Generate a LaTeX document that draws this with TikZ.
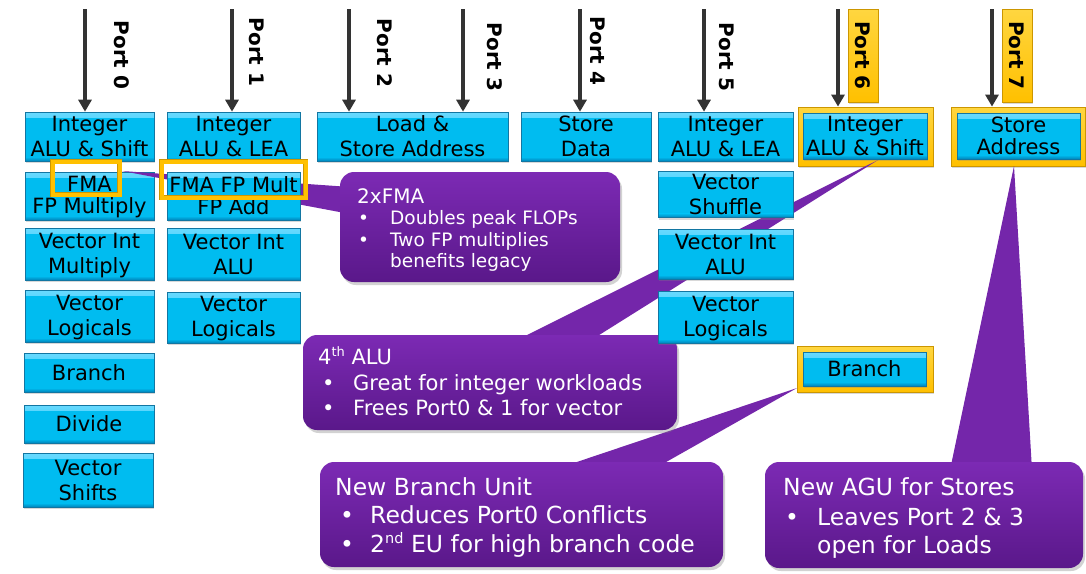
\documentclass[tikz,border=0pt]{standalone}
\usepackage{fontspec}
\setmainfont{DejaVu Sans}
\usetikzlibrary{arrows.meta,shadows}

\definecolor{unitfill}{RGB}{0,188,240}
\definecolor{unithi}{RGB}{105,218,255}
\definecolor{unitlow}{RGB}{0,132,186}
\definecolor{unitedge}{RGB}{18,118,162}
\definecolor{gold}{RGB}{255,192,0}
\definecolor{goldhi}{RGB}{255,214,64}
\definecolor{golddark}{RGB}{204,150,0}
\definecolor{violettop}{RGB}{124,42,180}
\definecolor{violetbot}{RGB}{90,24,138}
\definecolor{violetwedge}{RGB}{116,38,170}
\definecolor{portarrow}{RGB}{51,51,51}

% strut that centres a text line on its capitals
\newcommand\ustrut{\rule[-3pt]{0pt}{21pt}}
\newcommand\twoline[2]{\ustrut#1\\\ustrut#2}
\newcommand\unitsize{\fontsize{21}{25}\selectfont}
\newcommand\unittight{\fontsize{21}{22}\selectfont}
\newcommand\notea{\fontsize{18.5}{18.5}\selectfont}
\newcommand\noteb{\fontsize{21}{21}\selectfont}
\newcommand\notec{\fontsize{23.5}{23.5}\selectfont}

\begin{document}
\begin{tikzpicture}[x=1pt, y=-1pt,
  unit/.style={rectangle, inner sep=0pt, align=center, font=\unitsize,
    fill=unitfill, draw=unitedge, line width=0.6pt,
    drop shadow={shadow xshift=1pt, shadow yshift=-2pt, opacity=0.3},
    path picture={
      \shade[top color=unithi, bottom color=unitfill]
        (path picture bounding box.north west) rectangle ([yshift=-5pt]path picture bounding box.north east);
      \shade[top color=unitfill, bottom color=unitlow]
        ([yshift=4pt]path picture bounding box.south west) rectangle (path picture bounding box.south east);
    }},
  tightunit/.style={unit, font=\unittight},
  goldframe/.style={rectangle, inner sep=0pt, draw=golddark, line width=0.8pt,
    top color=goldhi, bottom color=gold,
    drop shadow={shadow xshift=1pt, shadow yshift=-2pt, opacity=0.3}},
  hilite/.style={rectangle, inner sep=0pt, draw=golddark, line width=0.7pt,
    double=gold, double distance=4pt},
  callout/.style={rectangle, rounded corners=14pt, inner sep=0pt,
    top color=violettop, bottom color=violetbot,
    drop shadow={shadow xshift=2pt, shadow yshift=-3pt, opacity=0.35}},
  wedge/.style={fill=violetwedge},
  note/.style={anchor=base west, inner sep=0pt, text=white},
  portline/.style={draw=portarrow, line width=4pt, -{Triangle[width=13pt, length=12pt]}},
  portname/.style={rotate=-90, inner sep=0pt, font=\bfseries\fontsize{20}{20}\selectfont},
  porttag/.style={goldframe, portname, minimum width=93pt, minimum height=30pt}
]
\useasboundingbox (0,0) rectangle (1086,573);
\fill[white] (0,0) rectangle (1086,573);

% ---- new units on ports 6 and 7, new branch unit
\node[goldframe, minimum width=135pt, minimum height=59pt] (f6) at (865.5,136.5) {};
\node[tightunit, minimum width=124pt, minimum height=46pt] (i6) at (865,136) {\twoline{Integer}{ALU \& Shift}};
\node[goldframe, minimum width=134pt, minimum height=59pt] (f7) at (1018,136.5) {};
\node[tightunit, minimum width=123pt, minimum height=46pt] (sa7) at (1018.5,136) {\twoline{Store}{Address}};
\node[goldframe, minimum width=136pt, minimum height=46pt] (fbr) at (865,369) {};
\node[unit, minimum width=123pt, minimum height=34pt] (br6) at (864.5,369) {\ustrut Branch};
\node[porttag] (pt6) at (863,55.5) {Port 6};
\node[porttag] (pt7) at (1017,55.5) {Port 7};

% ---- port 0
\node[unit, minimum width=129pt, minimum height=49pt] (i0) at (89.5,136.5) {\twoline{Integer}{ALU \& Shift}};
\node[tightunit, minimum width=129pt, minimum height=48pt] (fma0) at (89.5,196) {\twoline{FMA}{FP Multiply}};
\node[unit, minimum width=129pt, minimum height=52pt] (vim) at (89.5,254) {\twoline{Vector Int}{Multiply}};
\node[unit, minimum width=129pt, minimum height=52pt] (vl0) at (89.5,316) {\twoline{Vector}{Logicals}};
\node[unit, minimum width=130pt, minimum height=39pt] (br0) at (89,372.5) {\ustrut Branch};
\node[unit, minimum width=130pt, minimum height=38pt] (dv) at (89,424) {\ustrut Divide};
\node[unit, minimum width=130pt, minimum height=54pt] (vsh) at (88,480) {\twoline{Vector}{Shifts}};

% ---- callout pointers
\fill[wedge] (122,171) -- (350,187) -- (350,214) -- cycle;
\fill[wedge] (878,160) -- (513,342) -- (588,342) -- cycle;
\fill[wedge] (797,388) -- (553,470) -- (652,470) -- cycle;
\fill[wedge] (1014,166) -- (950,470) -- (1032,470) -- cycle;

% ---- callout bodies
\node[callout, minimum width=280pt, minimum height=110pt] (c1) at (480,227) {};
\node[callout, minimum width=374pt, minimum height=95pt] (c2) at (490,382.5) {};
\node[callout, minimum width=403pt, minimum height=105pt] (c3) at (521.5,514.5) {};
\node[callout, minimum width=318pt, minimum height=106pt] (c4) at (924,515) {};

\node[note, font=\fontsize{20}{20}\selectfont] (c1t) at (357,203) {2xFMA};
\node[note, font=\notea] (c1b1) at (358,224) {•};
\node[note, font=\notea] (c1l1) at (390,224) {Doubles peak FLOPs};
\node[note, font=\notea] (c1b2) at (358,246) {•};
\node[note, font=\notea] (c1l2) at (390,246) {Two FP multiplies};
\node[note, font=\notea] (c1l3) at (390,267) {benefits legacy};

\node[note, font=\noteb] (c2t) at (318,364) {4\raisebox{8pt}{\fontsize{13}{13}\selectfont th} ALU};
\node[note, font=\noteb] (c2b1) at (322,390) {•};
\node[note, font=\noteb] (c2l1) at (353,390) {Great for integer workloads};
\node[note, font=\noteb] (c2b2) at (322,415) {•};
\node[note, font=\noteb] (c2l2) at (353,415) {Frees Port0 \& 1 for vector};

\node[note, font=\notec] (c3t) at (335,495) {New Branch Unit};
\node[note, font=\notec] (c3b1) at (340,523) {•};
\node[note, font=\notec] (c3l1) at (370,523) {Reduces Port0 Conflicts};
\node[note, font=\notec] (c3b2) at (340,552) {•};
\node[note, font=\notec] (c3l2) at (370,552) {2\raisebox{9pt}{\fontsize{14.5}{14.5}\selectfont nd} EU for high branch code};

\node[note, font=\notec] (c4t) at (783,495) {New AGU for Stores};
\node[note, font=\notec] (c4b1) at (785,525) {•};
\node[note, font=\notec] (c4l1) at (817,525) {Leaves Port 2 \& 3};
\node[note, font=\notec] (c4l2) at (817,553) {open for Loads};

% ---- port 1
\node[unit, minimum width=133pt, minimum height=49pt] (i1) at (233.5,136.5) {\twoline{Integer}{ALU \& LEA}};
\node[tightunit, minimum width=133pt, minimum height=48pt] (fma1) at (233.5,196) {\twoline{FMA FP Mult}{FP Add}};
\node[unit, minimum width=133pt, minimum height=52pt] (via1) at (233.5,254) {\twoline{Vector Int}{ALU}};
\node[unit, minimum width=133pt, minimum height=51pt] (vl1) at (233.5,317.5) {\twoline{Vector}{Logicals}};

% ---- ports 2, 3 and 4
\node[unit, minimum width=191pt, minimum height=49pt] (lsa) at (412.5,136.5) {\twoline{Load \&}{Store Address}};
\node[unit, minimum width=130pt, minimum height=49pt] (sd) at (586,136.5) {\twoline{Store}{Data}};

% ---- port 5
\node[unit, minimum width=135pt, minimum height=49pt] (i5) at (725.5,136.5) {\twoline{Integer}{ALU \& LEA}};
\node[unit, minimum width=135pt, minimum height=45pt] (vsf) at (725.5,194.5) {\twoline{Vector}{Shuffle}};
\node[unit, minimum width=135pt, minimum height=50pt] (via5) at (725.5,254) {\twoline{Vector Int}{ALU}};
\node[unit, minimum width=135pt, minimum height=52pt] (vl5) at (725.5,317) {\twoline{Vector}{Logicals}};

% ---- FMA highlights
\node[hilite, minimum width=67pt, minimum height=33pt] (hl0) at (86,178) {};
\node[hilite, minimum width=144pt, minimum height=36pt] (hl1) at (233.5,179.5) {};

% ---- issue ports
\coordinate (t0) at (85,9);
\coordinate (t1) at (232,9);
\coordinate (t2) at (349,9);
\coordinate (t3) at (463,9);
\coordinate (t4) at (580,9);
\coordinate (t5) at (704,9);
\coordinate (t6) at (838,9);
\coordinate (t7) at (992,9);
\draw[portline] (t0) -- (t0 |- i0.north);
\draw[portline] (t1) -- (t1 |- i1.north);
\draw[portline] (t2) -- (t2 |- lsa.north);
\draw[portline] (t3) -- (t3 |- lsa.north);
\draw[portline] (t4) -- (t4 |- sd.north);
\draw[portline] (t5) -- (t5 |- i5.north);
\draw[portline] (t6) -- (t6 |- f6.north);
\draw[portline] (t7) -- (t7 |- f7.north);

\node[portname] (p0) at (122,55) {Port 0};
\node[portname] (p1) at (257,52) {Port 1};
\node[portname] (p2) at (385,53) {Port 2};
\node[portname] (p3) at (495,57) {Port 3};
\node[portname] (p4) at (598,51) {Port 4};
\node[portname] (p5) at (727,57) {Port 5};
\end{tikzpicture}
\end{document}
